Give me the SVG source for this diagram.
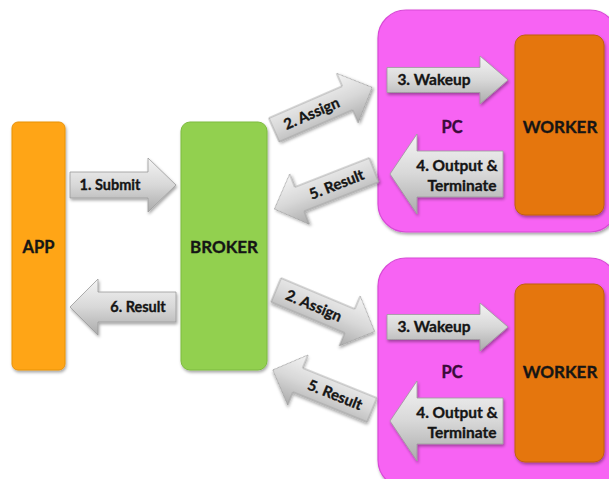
<svg xmlns="http://www.w3.org/2000/svg" width="609" height="479" viewBox="0 0 609 479">
<defs>
<linearGradient id="ag" x1="0" y1="0" x2="0" y2="1">
<stop offset="0" stop-color="#f4f4f4"/>
<stop offset="0.5" stop-color="#d8d8d8"/>
<stop offset="1" stop-color="#ababab"/>
</linearGradient>
<filter id="sh" x="-20%" y="-20%" width="140%" height="140%">
<feDropShadow dx="1" dy="2" stdDeviation="1.5" flood-color="#000" flood-opacity="0.35"/>
</filter>
</defs>
<style>
.lbl{font-family:Lato,"Liberation Sans",sans-serif;font-weight:bold;fill:#151515;stroke:#151515;stroke-width:0.35;text-anchor:middle}
.arr{fill:url(#ag);stroke:#9a9a9a;stroke-width:0.8;filter:url(#sh)}
.al{font-size:14.5px}
.ad{font-size:15px}
.ap{font-size:15.5px}
.app{fill:#FFA514;stroke:#E8920A;stroke-width:1;filter:url(#sh)}
.broker{fill:#92D050;stroke:#7DBB3E;stroke-width:1;filter:url(#sh)}
.pc{fill:#F763F3;stroke:#D84AD6;stroke-width:1.2;filter:url(#sh)}
.worker{fill:#E5760E;stroke:#C0600A;stroke-width:1;filter:url(#sh)}
</style>
<rect width="609" height="479" fill="#ffffff"/>

<g id="app">
<rect class="app" x="12" y="122" width="53" height="248" rx="6"/>
<text class="lbl" x="38.5" y="253" font-size="16.5">APP</text>
</g>

<g id="broker">
<rect class="broker" x="181" y="122" width="86" height="248" rx="9"/>
<text class="lbl" x="224" y="253" font-size="17">BROKER</text>
</g>

<g id="pc1">
<rect class="pc" x="378" y="10" width="240" height="222" rx="28"/>
<text class="lbl" x="452" y="133" font-size="16.5" style="fill:#3a0a3a;stroke:#3a0a3a">PC</text>
<g id="worker1">
<rect class="worker" x="515" y="35" width="89" height="180" rx="10"/>
<text class="lbl" x="560" y="133" font-size="17">WORKER</text>
</g>
</g>

<g id="pc2">
<rect class="pc" x="378" y="258" width="240" height="230" rx="28"/>
<text class="lbl" x="452" y="378" font-size="16.5" style="fill:#3a0a3a;stroke:#3a0a3a">PC</text>
<g id="worker2">
<rect class="worker" x="515" y="284" width="89" height="178" rx="10"/>
<text class="lbl" x="560" y="378" font-size="17">WORKER</text>
</g>
</g>

<g id="connectors">
<g id="submit" transform="translate(70,185)">
<path class="arr" d="M0,-13 H78 V-27 L106,0 L78,27 V13 H0 Z"/>
<text class="lbl al" x="40" y="5">1. Submit</text>
</g>
<g id="result6" transform="translate(176,307)">
<path class="arr" d="M0,-15 H-78 V-28 L-106,0 L-78,28 V15 H0 Z"/>
<text class="lbl al" x="-38" y="5">6. Result</text>
</g>
<g id="assign1" transform="translate(274,130) rotate(-23.5)">
<path class="arr" d="M0,-13 H80 V-27 L107,0 L80,27 V13 H0 Z"/>
<text class="lbl ad" x="41" y="5">2. Assign</text>
</g>
<g id="result5a" transform="translate(374,170) rotate(-21.4)">
<path class="arr" d="M0,-13 H-80 V-27 L-107,0 L-80,27 V13 H0 Z"/>
<text class="lbl ad" x="-40" y="5">5. Result</text>
</g>
<g id="assign2" transform="translate(276,290) rotate(22.8)">
<path class="arr" d="M0,-13 H80 V-27 L107,0 L80,27 V13 H0 Z"/>
<text class="lbl ad" x="41" y="5">2. Assign</text>
</g>
<g id="result5b" transform="translate(372,410) rotate(22)">
<path class="arr" d="M0,-13 H-80 V-27 L-107,0 L-80,27 V13 H0 Z"/>
<text class="lbl ad" x="-40" y="5">5. Result</text>
</g>
<g id="wakeup1" transform="translate(387,80)">
<path class="arr" d="M0,-12.5 H93 V-24 L121,0 L93,24 V12.5 H0 Z"/>
<text class="lbl ap" x="47" y="5">3. Wakeup</text>
</g>
<g id="output1" transform="translate(503,174)">
<path class="arr" d="M0,-23 H-86 V-40 L-113,0 L-86,40 V23 H0 Z"/>
<text class="lbl ap" x="-46" y="-3">4. Output &amp;</text>
<text class="lbl ap" x="-41" y="17">Terminate</text>
</g>
<g id="wakeup2" transform="translate(387,327)">
<path class="arr" d="M0,-12.5 H93 V-24 L121,0 L93,24 V12.5 H0 Z"/>
<text class="lbl ap" x="47" y="5">3. Wakeup</text>
</g>
<g id="output2" transform="translate(503,421)">
<path class="arr" d="M0,-23 H-86 V-40 L-113,0 L-86,40 V23 H0 Z"/>
<text class="lbl ap" x="-46" y="-3">4. Output &amp;</text>
<text class="lbl ap" x="-41" y="17">Terminate</text>
</g>
</g>
</svg>
